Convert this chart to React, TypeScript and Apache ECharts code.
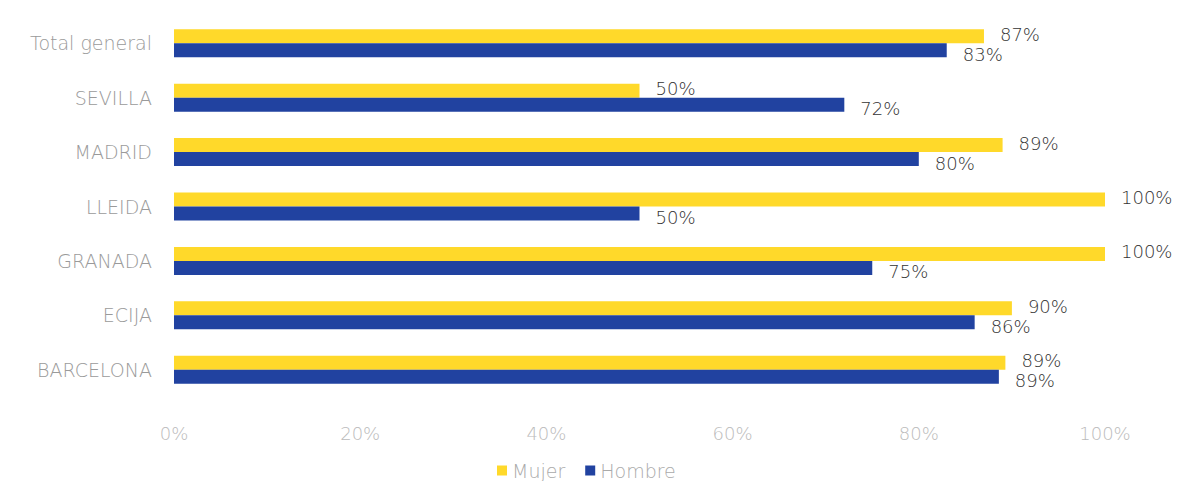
import React, { useEffect, useRef } from "react";
import * as echarts from "echarts";

const categories = ["BARCELONA", "ECIJA", "GRANADA", "LLEIDA", "MADRID", "SEVILLA", "Total general"];
const mujer = [89.3, 90, 100, 100, 89, 50, 87];
const hombre = [88.6, 86, 75, 50, 80, 72, 83];
const xTicks = [0, 20, 40, 60, 80, 100];
const seriesNames = ["Mujer", "Hombre"];

const FONT = "DejaVu Sans";

export default function App() {
  const ref = useRef<HTMLDivElement>(null);
  useEffect(() => {
    document.body.style.margin = "0";
    if (!ref.current) return;
    const chart = echarts.init(ref.current, null, { renderer: "svg" });
    const labelCommon = {
      show: true,
      position: "right" as const,
      distance: 16,
      color: "#333333",
      fontFamily: FONT,
      fontWeight: 200 as any,
      fontSize: 18,
      formatter: (p: any) => Math.round(p.value) + "%",
    };
    chart.setOption({
      animation: false,
      backgroundColor: "#ffffff",
      grid: { left: 174, right: 74, top: 16, bottom: 84, containLabel: false },
      legend: {
        data: seriesNames,
        top: 461,
        left: 497,
        padding: 0,
        itemWidth: 10,
        itemHeight: 10,
        itemGap: 20,
        icon: "rect",
        textStyle: { color: "#aaaaaa", fontFamily: FONT, fontWeight: 200 as any, fontSize: 19 },
      },
      xAxis: {
        type: "value",
        min: xTicks[0],
        max: xTicks[xTicks.length - 1],
        interval: 20,
        splitLine: { show: false },
        axisLine: { show: false },
        axisTick: { show: false },
        axisLabel: {
          formatter: (v: number) => v + "%",
          color: "#bbbbbb",
          fontFamily: FONT,
          fontWeight: 200 as any,
          fontSize: 18,
          margin: 27,
        },
      },
      yAxis: {
        type: "category",
        data: categories,
        axisLine: { show: false },
        axisTick: { show: false },
        axisLabel: {
          color: "#9a9a9a",
          fontFamily: FONT,
          fontWeight: 200 as any,
          fontSize: 19,
          margin: 22,
        },
      },
      series: [
        {
          name: seriesNames[0],
          type: "bar",
          data: mujer,
          barWidth: 14,
          barGap: "0%",
          itemStyle: { color: "#FFD92A" },
          label: { ...labelCommon, offset: [0, -2] },
        },
        {
          name: seriesNames[1],
          type: "bar",
          data: hombre,
          barWidth: 14,
          barGap: "0%",
          itemStyle: { color: "#2142A0" },
          label: { ...labelCommon, offset: [0, 4] },
        },
      ],
    });
    return () => chart.dispose();
  }, []);
  return <div ref={ref} style={{ width: 1179, height: 481 }} />;
}
